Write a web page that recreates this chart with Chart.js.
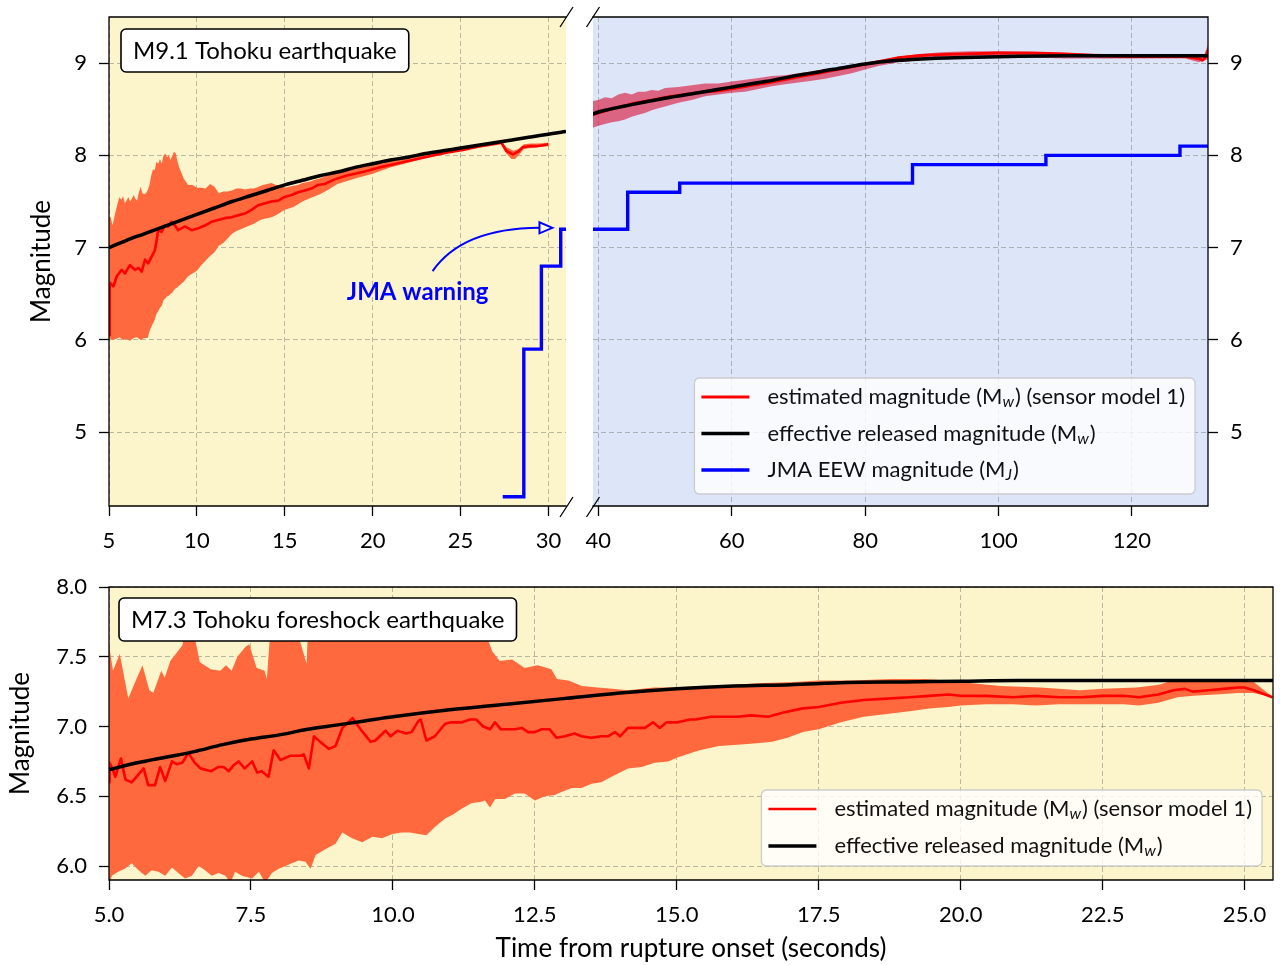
<!DOCTYPE html>
<html>
<head>
<meta charset="utf-8">
<title>Tohoku earthquake magnitude estimates</title>
<script src="https://cdn.jsdelivr.net/npm/chart.js@4.4.1/dist/chart.umd.min.js"></script>
<style>
  html, body { margin: 0; padding: 0; background: #fff; width: 1280px; height: 965px; overflow: hidden; }
  .panel { position: absolute; }
</style>
</head>
<body>
<div class="panel" style="left:0;top:0;width:580px;height:560px"><canvas id="mainEarly"></canvas></div>
<div class="panel" style="left:580px;top:0;width:700px;height:560px"><canvas id="mainLate"></canvas></div>
<div class="panel" style="left:0;top:560px;width:1280px;height:405px"><canvas id="foreshock"></canvas></div>
<script>
// ---------- M9.1 mainshock: estimated magnitude, 5-30 s ----------
const mainEstT = [5.00, 5.04, 5.25, 5.44, 5.72, 5.91, 6.19, 6.48, 6.67, 6.86,
  7.05, 7.23, 7.42, 7.61, 7.71, 7.80, 7.99, 8.18, 8.37, 8.56,
  8.75, 8.94, 9.32, 9.70, 10.08, 10.45, 10.83, 11.21, 11.59, 11.97,
  12.35, 12.73, 13.11, 13.48, 13.86, 14.24, 14.62, 15.00, 15.38, 15.76,
  16.14, 16.52, 16.89, 17.27, 17.84, 18.48, 19.43, 20.38, 21.33, 22.28,
  23.23, 24.18, 25.13, 26.08, 27.03, 27.32, 27.60, 27.98, 28.27, 28.55,
  28.94, 29.30, 29.70, 30.00];
const mainEstM = [6.05, 6.62, 6.58, 6.69, 6.76, 6.72, 6.81, 6.76, 6.78, 6.74,
  6.87, 6.83, 6.90, 6.97, 7.08, 7.19, 7.17, 7.24, 7.23, 7.28,
  7.24, 7.19, 7.23, 7.19, 7.21, 7.24, 7.28, 7.30, 7.32, 7.33,
  7.35, 7.37, 7.41, 7.46, 7.48, 7.50, 7.51, 7.55, 7.57, 7.60,
  7.62, 7.64, 7.68, 7.69, 7.74, 7.78, 7.82, 7.87, 7.91, 7.95,
  7.99, 8.03, 8.06, 8.10, 8.13, 8.14, 8.05, 8.01, 8.04, 8.09,
  8.10, 8.10, 8.11, 8.12];

// uncertainty band, 5-30 s
const mainBandUpT = [5.0, 5.1, 5.2, 5.3, 5.4, 5.5, 5.6, 5.7, 5.8, 5.9,
  6.0, 6.1, 6.2, 6.3, 6.4, 6.5, 6.6, 6.7, 6.8, 6.9,
  7.0, 7.1, 7.2, 7.3, 7.4, 7.5, 7.6, 7.7, 7.8, 7.9,
  8.0, 8.1, 8.2, 8.3, 8.4, 8.5, 8.6, 8.7, 8.8, 8.9,
  9.0,
  9.25, 9.5, 9.75, 10, 10.25, 10.5, 10.75, 11, 11.25, 11.5,
  11.75, 12, 12.25, 12.5, 12.75, 13, 13.25, 13.5, 13.75, 14,
  14.25, 14.5, 14.75, 15, 15.25, 15.5, 15.75, 16, 16.25, 16.5,
  16.75, 17, 17.25, 17.5,
  18, 19, 20, 21, 22, 23, 24, 25, 26, 27,
  27.3, 27.6, 28.0, 28.3, 28.6, 29.0, 29.5, 30.0];
const mainBandUpM = [7.34, 7.33, 7.24, 7.33, 7.41, 7.49, 7.55, 7.52, 7.56, 7.48,
  7.51, 7.55, 7.50, 7.53, 7.57, 7.53, 7.51, 7.60, 7.66, 7.59,
  7.58, 7.59, 7.62, 7.68, 7.78, 7.85, 7.84, 7.93, 7.91, 7.96,
  7.91, 8.00, 8.02, 7.98, 8.00, 7.95, 8.00, 8.04, 8.02, 7.93,
  7.87,
  7.75, 7.68, 7.68, 7.65, 7.65, 7.64, 7.69, 7.66, 7.59, 7.61,
  7.61, 7.62, 7.64, 7.64, 7.63, 7.64, 7.64, 7.66, 7.68, 7.69,
  7.70, 7.68, 7.67, 7.65, 7.66, 7.67, 7.68, 7.70, 7.71, 7.72,
  7.74, 7.75, 7.77, 7.79,
  7.83, 7.87, 7.91, 7.96, 7.99, 8.03, 8.06, 8.09, 8.12, 8.15,
  8.15, 8.09, 8.05, 8.07, 8.12, 8.13, 8.13, 8.14];
const mainBandLoT = [5.0, 5.2, 5.4, 5.6, 5.8, 6.0, 6.2, 6.4, 6.6, 6.8,
  7.0, 7.2,
  7.3, 7.4, 7.5, 7.6, 7.7, 7.8, 7.9, 8.0, 8.1, 8.2,
  8.3, 8.4, 8.5, 8.6, 8.7, 8.8, 8.9, 9.0,
  9.25, 9.5, 9.75, 10, 10.25, 10.5, 10.75, 11, 11.25, 11.5,
  11.75, 12, 12.25, 12.5, 12.75, 13, 13.25, 13.5, 13.75, 14,
  14.25, 14.5, 14.75, 15,
  15.5, 16, 16.5, 17, 17.5,
  18, 19, 20, 21, 22, 23, 24, 25, 26, 27,
  27.3, 27.6, 27.9, 28.1, 28.3, 28.6, 29.0, 29.5, 30.0];
const mainBandLoM = [6.02, 6.00, 6.01, 6.03, 6.00, 6.01, 5.99, 6.02, 6.03, 6.00,
  6.02, 6.02,
  6.09, 6.14, 6.18, 6.22, 6.28, 6.31, 6.35, 6.37, 6.43, 6.45,
  6.47, 6.48, 6.50, 6.51, 6.54, 6.56, 6.57, 6.59,
  6.63, 6.69, 6.72, 6.75, 6.81, 6.86, 6.91, 6.95, 7.02, 7.05,
  7.10, 7.15, 7.18, 7.20, 7.22, 7.24, 7.26, 7.29, 7.31, 7.32,
  7.33, 7.35, 7.38, 7.41,
  7.44, 7.50, 7.54, 7.58, 7.63,
  7.69, 7.75, 7.80, 7.87, 7.92, 7.97, 8.01, 8.05, 8.08, 8.11,
  8.12, 8.02, 7.96, 7.96, 8.00, 8.07, 8.08, 8.09, 8.10];

// ---------- M9.1 mainshock: estimated magnitude, 39-131 s ----------
const lateEstT = [39.2, 40, 42, 45, 48, 50, 52, 55, 58, 60,
  63, 65, 68, 70, 73, 75, 78, 80, 83, 85,
  88, 90, 95, 100, 105, 110, 115, 120, 125, 128,
  130, 130.6, 131.0, 131.4];
const lateEstM = [8.44, 8.46, 8.50, 8.56, 8.60, 8.63, 8.65, 8.68, 8.70, 8.72,
  8.76, 8.78, 8.82, 8.85, 8.89, 8.92, 8.96, 8.99, 9.03, 9.06,
  9.08, 9.09, 9.10, 9.11, 9.11, 9.10, 9.08, 9.07, 9.07, 9.07,
  9.05, 9.03, 9.06, 9.14];
const lateBandT = [39.2, 40, 41, 42, 43, 44, 45, 46, 47, 48,
  49, 50, 52, 54, 56, 58, 60, 62, 64, 66,
  68, 70, 72, 74, 76, 78, 80, 82, 85, 88,
  92, 96, 100, 105, 110, 116, 122, 128, 130, 130.8,
  131.4];
const lateBandUpM = [8.59, 8.60, 8.63, 8.62, 8.66, 8.68, 8.66, 8.69, 8.69, 8.71,
  8.70, 8.73, 8.74, 8.76, 8.78, 8.78, 8.80, 8.82, 8.84, 8.86,
  8.87, 8.89, 8.91, 8.93, 8.95, 8.97, 8.99, 9.03, 9.07, 9.10,
  9.12, 9.13, 9.13, 9.12, 9.11, 9.10, 9.10, 9.09, 9.08, 9.08,
  9.20];
const lateBandLoM = [8.30, 8.32, 8.34, 8.36, 8.37, 8.39, 8.42, 8.44, 8.46, 8.49,
  8.51, 8.53, 8.57, 8.60, 8.64, 8.66, 8.68, 8.69, 8.72, 8.75,
  8.77, 8.79, 8.81, 8.83, 8.86, 8.89, 8.93, 8.97, 9.01, 9.03,
  9.05, 9.06, 9.06, 9.06, 9.05, 9.05, 9.05, 9.05, 9.01, 9.03,
  9.04];

// effective released magnitude of the mainshock (both time windows)
const mainMwT = [5, 6, 7, 8, 9, 10, 11, 12, 13, 14,
  15, 16, 17, 18, 19, 20, 21, 22, 23, 24,
  25, 26, 27, 28, 29, 30, 31, 39.2, 40, 45,
  50, 55, 60, 65, 70, 75, 80, 85, 90, 95,
  100, 110, 120, 131.4];
const mainMwM = [7.00, 7.08, 7.15, 7.22, 7.29, 7.36, 7.43, 7.50, 7.56, 7.62,
  7.68, 7.73, 7.78, 7.82, 7.87, 7.91, 7.95, 7.98, 8.02, 8.05,
  8.08, 8.11, 8.14, 8.17, 8.20, 8.23, 8.26, 8.45, 8.47, 8.55,
  8.62, 8.68, 8.74, 8.80, 8.87, 8.93, 8.99, 9.03, 9.05, 9.06,
  9.07, 9.08, 9.08, 9.08];

// JMA early-warning magnitude updates (time of each update, new value)
const jmaT = [27.4, 28.6, 29.6, 30.7, 44.4, 52.2, 87.1, 107.1, 127.2, 131.4];
const jmaM = [4.3, 5.9, 6.8, 7.2, 7.6, 7.7, 7.9, 8.0, 8.1, 8.1];

// ---------- M7.3 foreshock ----------
const foreEstT = [5.00, 5.01, 5.06, 5.11, 5.21, 5.29, 5.40, 5.61, 5.69, 5.81,
  5.90, 5.99, 6.11, 6.19, 6.29, 6.40, 6.51, 6.61, 6.80, 6.93,
  7.02, 7.11, 7.19, 7.28, 7.39, 7.52, 7.61, 7.69, 7.81, 7.90,
  8.02, 8.19, 8.37, 8.43, 8.52, 8.61, 8.72, 8.87, 8.99, 9.11,
  9.29, 9.43, 9.61, 9.69, 9.87, 9.96, 10.08, 10.15, 10.24, 10.33,
  10.45, 10.49, 10.59, 10.74, 10.92, 11.03, 11.21, 11.36, 11.47, 11.59,
  11.71, 11.80, 11.90, 12.03, 12.15, 12.27, 12.38, 12.50, 12.62, 12.76,
  12.88, 13.03, 13.20, 13.32, 13.50, 13.67, 13.79, 13.91, 14.00, 14.14,
  14.29, 14.44, 14.58, 14.70, 14.82, 15.02, 15.23, 15.33, 15.60, 15.87,
  16.07, 16.31, 16.61, 16.88, 17.22, 17.50, 17.89, 18.29, 18.70, 19.10,
  19.44, 19.78, 20.00, 20.45, 20.92, 21.32, 21.73, 22.13, 22.50, 22.87,
  23.14, 23.48, 23.75, 23.95, 24.09, 24.36, 24.63, 24.89, 25.00, 25.16,
  25.49];
const foreEstM = [6.60, 6.74, 6.70, 6.64, 6.77, 6.62, 6.60, 6.70, 6.58, 6.58,
  6.71, 6.61, 6.75, 6.73, 6.74, 6.81, 6.74, 6.70, 6.68, 6.71,
  6.71, 6.68, 6.72, 6.75, 6.70, 6.75, 6.67, 6.68, 6.64, 6.83,
  6.76, 6.79, 6.79, 6.80, 6.70, 6.93, 6.89, 6.84, 6.86, 6.99,
  7.06, 6.98, 6.89, 6.90, 6.97, 6.93, 6.97, 6.96, 6.95, 6.96,
  7.04, 7.05, 6.90, 6.93, 7.02, 7.03, 7.03, 7.05, 7.05, 7.00,
  6.98, 7.03, 6.98, 6.98, 6.98, 6.99, 6.96, 6.96, 6.98, 6.98,
  6.92, 6.93, 6.95, 6.93, 6.92, 6.93, 6.93, 6.96, 6.93, 6.99,
  6.99, 6.99, 7.03, 6.99, 7.03, 7.03, 7.05, 7.05, 7.07, 7.07,
  7.07, 7.08, 7.07, 7.10, 7.13, 7.14, 7.17, 7.19, 7.20, 7.21,
  7.22, 7.23, 7.22, 7.22, 7.21, 7.22, 7.21, 7.21, 7.22, 7.22,
  7.21, 7.23, 7.26, 7.27, 7.25, 7.26, 7.27, 7.28, 7.28, 7.26,
  7.21];
const foreBandUpT = [5.00, 5.07, 5.19, 5.34, 5.44, 5.59, 5.71, 5.78, 5.92, 5.98,
  6.08, 6.29, 6.46, 6.52, 6.60, 6.79, 6.96, 7.06, 7.16, 7.26,
  7.40, 7.47, 7.60, 7.74, 7.78, 7.87, 8.07, 8.30, 8.48, 8.51,
  8.70, 9.00, 9.30, 9.60, 10.00, 10.30, 10.60, 10.90, 11.20, 11.60,
  11.75, 11.88, 12.10, 12.32, 12.55, 12.79, 12.89, 13.09, 13.33, 13.60,
  13.87, 14.14, 14.60, 15.00, 15.40, 15.74, 16.41, 17.08, 17.50, 18.09,
  18.77, 19.37, 19.78, 20.20, 20.70, 21.40, 22.10, 22.50, 23.10, 23.50,
  23.80, 24.10, 24.50, 24.90, 25.16, 25.50];
const foreBandUpM = [7.59, 7.40, 7.52, 7.20, 7.30, 7.44, 7.26, 7.24, 7.40, 7.35,
  7.47, 7.58, 7.86, 7.62, 7.46, 7.41, 7.40, 7.44, 7.40, 7.50,
  7.57, 7.59, 7.42, 7.40, 7.34, 7.85, 7.86, 7.70, 7.45, 7.75,
  7.80, 7.84, 7.82, 7.80, 7.85, 7.80, 7.86, 7.85, 7.80, 7.70,
  7.54, 7.47, 7.48, 7.42, 7.44, 7.41, 7.34, 7.33, 7.29, 7.28,
  7.27, 7.26, 7.28, 7.28, 7.29, 7.29, 7.31, 7.32, 7.33, 7.33,
  7.34, 7.34, 7.33, 7.31, 7.29, 7.28, 7.26, 7.27, 7.28, 7.30,
  7.34, 7.33, 7.33, 7.33, 7.32, 7.21];
const foreBandLoT = [5.00, 5.05, 5.16, 5.28, 5.40, 5.52, 5.64, 5.75, 5.87, 5.99,
  6.11, 6.22, 6.34, 6.46, 6.58, 6.69, 6.81, 6.93, 7.05, 7.14,
  7.22, 7.34, 7.52, 7.64, 7.75, 7.87, 7.99, 8.11, 8.22, 8.34,
  8.46, 8.55, 8.64, 8.81, 8.99, 9.11, 9.28, 9.46, 9.64, 9.81,
  9.99, 10.15, 10.30, 10.45, 10.59, 10.74, 10.92, 11.06, 11.21, 11.38,
  11.56, 11.62, 11.71, 11.80, 11.97, 12.15, 12.32, 12.50, 12.68, 12.85,
  12.97, 13.15, 13.32, 13.50, 13.67, 13.85, 14.14, 14.38, 14.61, 14.85,
  15.02, 15.40, 15.74, 16.07, 16.41, 16.68, 16.95, 17.22, 17.50, 17.89,
  18.29, 18.70, 19.10, 19.44, 19.78, 20.00, 20.45, 20.92, 21.32, 21.73,
  22.13, 22.50, 22.87, 23.14, 23.48, 23.82, 24.09, 24.49, 24.89, 25.16,
  25.50];
const foreBandLoM = [5.85, 5.93, 5.96, 5.98, 6.02, 5.97, 5.93, 5.97, 5.96, 5.93,
  5.99, 5.95, 5.91, 5.93, 6.00, 5.97, 5.93, 5.95, 5.93, 5.88,
  5.96, 5.93, 5.91, 5.96, 5.88, 5.95, 5.98, 6.00, 6.02, 6.04,
  6.03, 5.98, 6.08, 6.12, 6.16, 6.24, 6.20, 6.17, 6.21, 6.20,
  6.23, 6.24, 6.24, 6.23, 6.22, 6.28, 6.34, 6.37, 6.41, 6.45,
  6.46, 6.47, 6.42, 6.48, 6.48, 6.52, 6.52, 6.47, 6.50, 6.51,
  6.53, 6.56, 6.56, 6.59, 6.60, 6.64, 6.70, 6.71, 6.74, 6.75,
  6.78, 6.83, 6.86, 6.87, 6.88, 6.89, 6.92, 6.96, 6.98, 7.03,
  7.07, 7.09, 7.11, 7.13, 7.14, 7.15, 7.16, 7.16, 7.15, 7.16,
  7.16, 7.16, 7.16, 7.15, 7.17, 7.21, 7.22, 7.23, 7.24, 7.24,
  7.21];
const foreMwT = [5, 5.5, 6, 6.5, 7, 7.5, 8, 8.5, 9, 9.5,
  10, 11, 12, 13, 14, 15, 16, 17, 18, 19,
  20, 21, 22, 23, 24, 25, 25.5];
const foreMwM = [6.69, 6.74, 6.78, 6.82, 6.87, 6.91, 6.94, 6.98, 7.01, 7.04,
  7.07, 7.12, 7.16, 7.20, 7.24, 7.27, 7.29, 7.30, 7.315, 7.32,
  7.325, 7.33, 7.33, 7.33, 7.33, 7.33, 7.33];

// ---------- tick labels ----------
const earlyXTicks = [5, 10, 15, 20, 25, 30];
const lateXTicks = [40, 60, 80, 100, 120];
const mainYTicks = [5, 6, 7, 8, 9];
const foreXTicks = [5, 7.5, 10, 12.5, 15, 17.5, 20, 22.5, 25];
const foreYTicks = [6.0, 6.5, 7.0, 7.5, 8.0];

// ---------- labels ----------
const LBL_EST = 'estimated magnitude (M_{w}) (sensor model 1)';
const LBL_MW = 'effective released magnitude (M_{w})';
const LBL_JMA = 'JMA EEW magnitude (M_{J})';

// ---------- styling ----------
const FONT = "Lato, 'DejaVu Sans', sans-serif";
const YELLOW = '#fcf5cb';
const BLUE_BG = '#dde6f8';
const ORANGE = '#ff693d';
const CRIMSON = 'rgba(220,20,60,0.62)';
const GRID = 'rgba(130,130,130,0.55)';
Chart.defaults.font.family = FONT;
Chart.defaults.color = '#000';

const pts = (t, m) => t.map((x, i) => ({ x, y: m[i] }));
const bandShape = (tu, mu, tl, ml) => pts(tu, mu).concat(pts(tl, ml).reverse());

function axis(cfg) {
  return {
    type: 'linear', position: cfg.position, min: cfg.min, max: cfg.max,
    afterBuildTicks: s => { s.ticks = cfg.ticks.map(v => ({ value: v })); },
    afterFit: s => {
      // fixed axis band; plot edges come from the layout padding alone
      if (s.isHorizontal()) { s.height = cfg.size; s.paddingLeft = 0; s.paddingRight = 0; }
      else { s.width = cfg.size; s.paddingTop = 0; s.paddingBottom = 0; }
    },
    ticks: { autoSkip: false, maxRotation: 0, minRotation: 0, padding: 12, color: '#000',
             font: { size: 22 }, callback: v => cfg.fmt(v) },
    grid: { color: GRID, lineWidth: 1, drawTicks: true, tickLength: 10,
            tickColor: '#000', tickWidth: 1.3, tickBorderDash: [] },
    border: { display: false, dash: [5, 3] },
    title: cfg.title ? { display: true, text: cfg.title, color: '#000', font: { size: 26 },
                         padding: cfg.titlePad } : { display: false }
  };
}
const intFmt = v => String(v);
const oneDec = v => v.toFixed(1);

function lineSet(label, data, color, width, order, extra) {
  return Object.assign({ label, data, borderColor: color, backgroundColor: color, borderWidth: width,
    pointRadius: 0, fill: false, order, borderJoinStyle: 'round' }, extra || {});
}
function bandSet(data, color) {
  return { label: 'band', data, fill: 'shape', backgroundColor: color, borderColor: 'rgba(0,0,0,0)',
    borderWidth: 0, pointRadius: 0, order: 5 };
}

// ---------- drawing helpers ----------
function richText(ctx, text, x, y, size, draw) {
  const parts = text.split(/(_\{[^}]*\})/).filter(s => s.length);
  let w = 0;
  for (const p of parts) {
    const sub = p.startsWith('_{');
    const s = sub ? p.slice(2, -1) : p;
    ctx.font = sub ? `italic ${Math.round(size * 0.74)}px ${FONT}` : `${size}px ${FONT}`;
    if (draw) ctx.fillText(s, x + w, sub ? y + size * 0.24 : y);
    w += ctx.measureText(s).width + (sub ? 1 : 0);
  }
  return w;
}
function roundRect(ctx, x, y, w, h, r) {
  ctx.beginPath();
  ctx.moveTo(x + r, y); ctx.lineTo(x + w - r, y); ctx.arcTo(x + w, y, x + w, y + r, r);
  ctx.lineTo(x + w, y + h - r); ctx.arcTo(x + w, y + h, x + w - r, y + h, r);
  ctx.lineTo(x + r, y + h); ctx.arcTo(x, y + h, x, y + h - r, r);
  ctx.lineTo(x, y + r); ctx.arcTo(x, y, x + r, y, r); ctx.closePath();
}
function drawTag(ctx, a, t) {
  ctx.save();
  ctx.font = `${t.size}px ${FONT}`;
  const w = ctx.measureText(t.text).width + 2 * t.pad;
  const x0 = a.left + t.dx, y0 = a.top + t.dy;
  roundRect(ctx, x0, y0, w, t.h, 5);
  ctx.fillStyle = '#fff'; ctx.fill();
  ctx.strokeStyle = '#000'; ctx.lineWidth = 1.6; ctx.stroke();
  ctx.fillStyle = '#000'; ctx.textBaseline = 'middle'; ctx.textAlign = 'left';
  ctx.fillText(t.text, x0 + t.pad, y0 + t.h / 2 + 1);
  ctx.restore();
}
function drawLegend(chart, L) {
  const ctx = chart.ctx, a = chart.chartArea;
  const sets = L.items.map(i => chart.data.datasets[i]);
  ctx.save();
  ctx.textBaseline = 'middle'; ctx.textAlign = 'left';
  let tw = 0;
  sets.forEach(ds => { tw = Math.max(tw, richText(ctx, ds.label, 0, 0, L.size, false)); });
  const w = 73 + tw + 10;
  const h = 19 + (sets.length - 1) * L.gap + L.tail;
  const x0 = a.right - L.right - w, y0 = a.bottom - L.bottom - h;
  roundRect(ctx, x0, y0, w, h, 5);
  ctx.fillStyle = 'rgba(255,255,255,0.8)'; ctx.fill();
  ctx.strokeStyle = 'rgba(200,200,200,0.9)'; ctx.lineWidth = 1.3; ctx.stroke();
  sets.forEach((ds, k) => {
    const yy = y0 + 19 + k * L.gap;
    ctx.beginPath(); ctx.moveTo(x0 + 7, yy); ctx.lineTo(x0 + 55, yy);
    ctx.strokeStyle = ds.borderColor; ctx.lineWidth = ds.borderWidth; ctx.lineCap = 'butt'; ctx.stroke();
    ctx.fillStyle = '#111';
    richText(ctx, ds.label, x0 + 73, yy, L.size, true);
  });
  ctx.restore();
}
function drawWarning(chart, w) {
  const ctx = chart.ctx, xs = chart.scales.x, ys = chart.scales.y;
  const P = p => [xs.getPixelForValue(p[0]), ys.getPixelForValue(p[1])];
  const [x0, y0] = P(w.from), [cx, cy] = P(w.ctrl), [tx, ty] = P(w.tip);
  const hl = 13, hw = 5.5;
  ctx.save();
  ctx.strokeStyle = '#0000ff'; ctx.lineWidth = 2;
  ctx.beginPath(); ctx.moveTo(x0, y0); ctx.quadraticCurveTo(cx, cy, tx - hl, ty); ctx.stroke();
  ctx.beginPath(); ctx.moveTo(tx, ty); ctx.lineTo(tx - hl, ty - hw); ctx.lineTo(tx - hl, ty + hw); ctx.closePath();
  ctx.fillStyle = '#fdf9e2'; ctx.fill(); ctx.lineJoin = 'miter'; ctx.stroke();
  const [lx, ly] = P(w.at);
  ctx.font = `bold 24px ${FONT}`; ctx.fillStyle = '#0000ff';
  ctx.textAlign = 'center'; ctx.textBaseline = 'middle';
  ctx.fillText(w.text, lx, ly);
  ctx.restore();
}

// per-panel decorations, keyed by canvas id
const DECOR = {
  mainEarly: {
    bg: YELLOW, spines: 'ltb', breakAt: 'right',
    tag: { text: 'M9.1 Tohoku earthquake', size: 24, pad: 12, h: 43, dx: 12, dy: 12 },
    warning: { text: 'JMA warning', at: [22.56, 6.52], from: [23.41, 6.745], ctrl: [25.1, 7.21], tip: [30.23, 7.215] }
  },
  mainLate: {
    bg: BLUE_BG, spines: 'rtb', breakAt: 'left',
    legend: { items: [1, 2, 3], size: 22, gap: 36.5, tail: 24, right: 13, bottom: 12 }
  },
  foreshock: {
    bg: YELLOW, spines: 'ltbr',
    tag: { text: 'M7.3 Tohoku foreshock earthquake', size: 24, pad: 12, h: 43, dx: 10, dy: 11 },
    legend: { items: [1, 2], size: 22, gap: 37, tail: 20, right: 11, bottom: 14 }
  }
};

const panelDecor = {
  id: 'panelDecor',
  beforeDraw(chart) {
    const d = DECOR[chart.canvas.id], a = chart.chartArea, ctx = chart.ctx;
    ctx.save(); ctx.fillStyle = d.bg;
    ctx.fillRect(a.left, a.top, a.right - a.left, a.bottom - a.top);
    ctx.restore();
  },
  afterDraw(chart) {
    const d = DECOR[chart.canvas.id], a = chart.chartArea, ctx = chart.ctx;
    if (d.warning) drawWarning(chart, d.warning);
    ctx.save();
    ctx.strokeStyle = '#000'; ctx.lineWidth = 1.3; ctx.lineCap = 'square';
    ctx.beginPath();
    if (d.spines.includes('l')) { ctx.moveTo(a.left, a.top); ctx.lineTo(a.left, a.bottom); }
    if (d.spines.includes('r')) { ctx.moveTo(a.right, a.top); ctx.lineTo(a.right, a.bottom); }
    if (d.spines.includes('t')) { ctx.moveTo(a.left, a.top); ctx.lineTo(a.right, a.top); }
    if (d.spines.includes('b')) { ctx.moveTo(a.left, a.bottom); ctx.lineTo(a.right, a.bottom); }
    ctx.stroke();
    if (d.breakAt) {
      const bx = d.breakAt === 'right' ? a.right + 0.5 : a.left;
      ctx.lineCap = 'butt'; ctx.lineWidth = 1.3;
      ctx.beginPath();
      for (const by of [a.top, a.bottom + 1]) { ctx.moveTo(bx - 6.5, by + 10); ctx.lineTo(bx + 6.5, by - 10); }
      ctx.stroke();
    }
    ctx.restore();
    if (d.tag) drawTag(ctx, a, d.tag);
    if (d.legend) drawLegend(chart, d.legend);
  }
};

const baseOptions = (padding, scales) => ({
  responsive: true, maintainAspectRatio: false, animation: false, devicePixelRatio: 1, events: [],
  layout: { padding },
  plugins: { legend: { display: false }, tooltip: { enabled: false } },
  scales
});

// top left: first 31 s of the mainshock
new Chart(document.getElementById('mainEarly'), {
  type: 'line',
  data: { datasets: [
    bandSet(bandShape(mainBandUpT, mainBandUpM, mainBandLoT, mainBandLoM), ORANGE),
    lineSet(LBL_EST, pts(mainEstT, mainEstM), '#ff0000', 2.6, 3),
    lineSet(LBL_MW, pts(mainMwT, mainMwM), '#000000', 3.5, 2, { cubicInterpolationMode: 'monotone' }),
    lineSet(LBL_JMA, pts(jmaT, jmaM), '#0000ff', 3.4, 1, { stepped: 'before', borderJoinStyle: 'miter' })
  ] },
  options: baseOptions({ left: 22, right: 14, top: 17, bottom: 10 }, {
    x: axis({ position: 'bottom', min: 5, max: 31, ticks: earlyXTicks, fmt: intFmt, size: 44 }),
    y: axis({ position: 'left', min: 4.2, max: 9.5, ticks: mainYTicks, fmt: intFmt, size: 87,
              title: 'Magnitude', titlePad: { top: 4, bottom: 0 } })
  }),
  plugins: [panelDecor]
});

// top right: 39-131 s of the mainshock
new Chart(document.getElementById('mainLate'), {
  type: 'line',
  data: { datasets: [
    bandSet(bandShape(lateBandT, lateBandUpM, lateBandT, lateBandLoM), CRIMSON),
    lineSet(LBL_EST, pts(lateEstT, lateEstM), '#ff0000', 2.8, 3),
    lineSet(LBL_MW, pts(mainMwT, mainMwM), '#000000', 3.5, 2, { cubicInterpolationMode: 'monotone' }),
    lineSet(LBL_JMA, pts(jmaT, jmaM), '#0000ff', 3.4, 1, { stepped: 'before', borderJoinStyle: 'miter' })
  ] },
  options: baseOptions({ left: 13, right: 12, top: 17, bottom: 10 }, {
    x: axis({ position: 'bottom', min: 39.2, max: 131.4, ticks: lateXTicks, fmt: intFmt, size: 44 }),
    y: axis({ position: 'right', min: 4.2, max: 9.5, ticks: mainYTicks, fmt: intFmt, size: 60 })
  }),
  plugins: [panelDecor]
});

// bottom: M7.3 foreshock
new Chart(document.getElementById('foreshock'), {
  type: 'line',
  data: { datasets: [
    bandSet(bandShape(foreBandUpT, foreBandUpM, foreBandLoT, foreBandLoM), ORANGE),
    lineSet(LBL_EST, pts(foreEstT, foreEstM), '#ff0000', 2.6, 3),
    lineSet(LBL_MW, pts(foreMwT, foreMwM), '#000000', 3.5, 2, { cubicInterpolationMode: 'monotone' })
  ] },
  options: baseOptions({ left: 1, right: 7, top: 27, bottom: 0 }, {
    x: axis({ position: 'bottom', min: 5, max: 25.5, ticks: foreXTicks, fmt: oneDec, size: 85,
              title: 'Time from rupture onset (seconds)', titlePad: { top: 0, bottom: 1 } }),
    y: axis({ position: 'left', min: 5.9, max: 8.0, ticks: foreYTicks, fmt: oneDec, size: 108,
              title: 'Magnitude', titlePad: { top: 4, bottom: 0 } })
  }),
  plugins: [panelDecor]
});
</script>
</body>
</html>
